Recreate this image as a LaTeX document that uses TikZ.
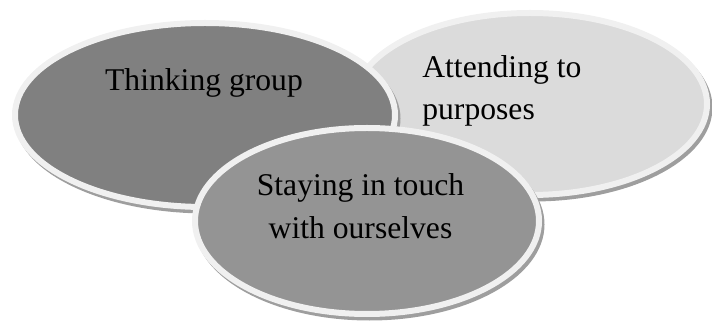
\documentclass[tikz,border=0pt]{standalone}
\usepackage{fontspec}
\setmainfont{Liberation Serif}
\tikzset{
  blob/.style={fill=#1, draw=black!6, line width=0.12cm},
  blobshadow/.style={fill=black!38},
  label/.style={font=\fontsize{18}{24}\selectfont, inner sep=0pt}
}
\begin{document}
\begin{tikzpicture}
\useasboundingbox (0,0) rectangle (14.24,6.44);

\def\xl{4.10};
\def\yl{4.14};
\def\xr{10.60};
\def\yr{4.36};
\def\xb{7.34};
\def\yb{2.02};

% right ellipse, at the back
\fill[blobshadow] (\xr+0.05, \yr-0.07) ellipse (3.6 and 1.88);
\filldraw[blob=black!14] (\xr, \yr) ellipse (3.54 and 1.82);

% left ellipse
\fill[blobshadow] (\xl+0.05, \yl-0.07) ellipse (3.86 and 1.9);
\filldraw[blob=black!50] (\xl, \yl) ellipse (3.80 and 1.84);

% bottom ellipse, in front
\fill[blobshadow] (\xb+0.05, \yb-0.07) ellipse (3.5 and 1.92);
\filldraw[blob=black!42] (\xb, \yb) ellipse (3.44 and 1.86);

\node[label, anchor=base] (think) at (4.08, 4.62) {Thinking group};
\node[label, anchor=base west, align=left] (attend) at (8.44, 4.04) {Attending to\\purposes};
\node[label, anchor=base, align=center] (touch) at (7.21, 1.68) {Staying in touch\\with ourselves};

\end{tikzpicture}
\end{document}
